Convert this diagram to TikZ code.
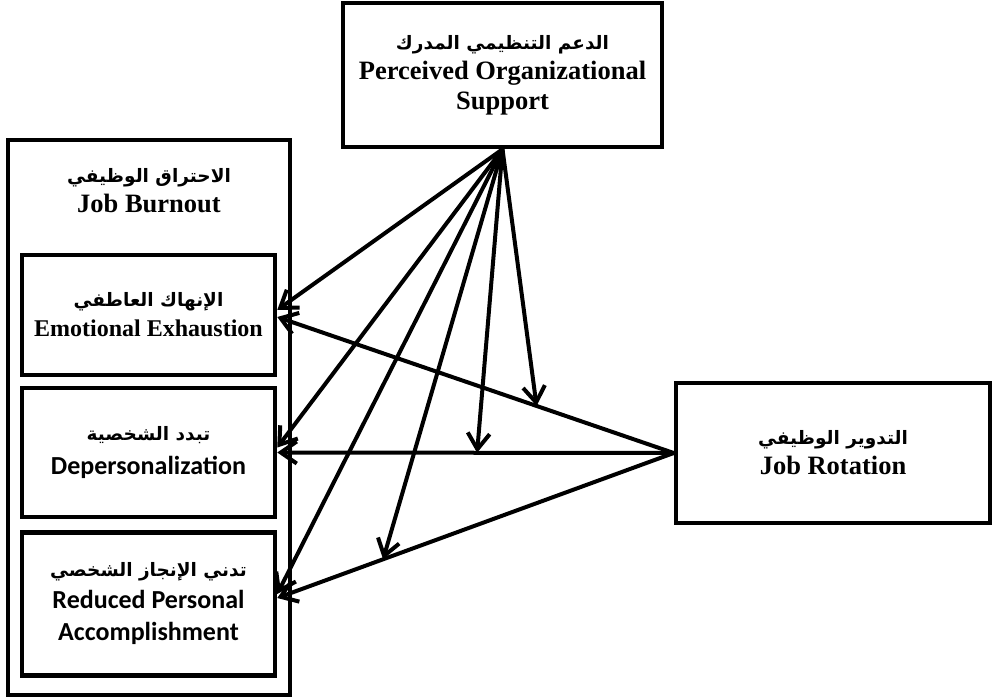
\documentclass[tikz,border=0pt]{standalone}
\usepackage{fontspec}
\setmainfont{Liberation Serif}
\newfontfamily\arabicfont[Script=Arabic]{DejaVu Sans}
\newfontfamily\calibfont{Carlito}
\TeXXeTstate=1
\usetikzlibrary{arrows.meta,calc}
\newcommand{\arabtxt}[1]{{\arabicfont\fontsize{18.5}{24}\selectfont\beginR #1\endR}}
\tikzset{
  >={Straight Barb[length=16pt,width=22pt]},
  every node/.style={font=\fontsize{26.5}{30}\selectfont\bfseries},
  box/.style={draw,line width=4.5pt,align=center,inner sep=0pt},
  title/.style={align=center,inner sep=0pt},
  arrow/.style={->,line width=4pt},
}
\begin{document}
\begin{tikzpicture}[x=1pt,y=-1pt]
\useasboundingbox (0,0) rectangle (994,698);

\node[box,minimum width=319,minimum height=144] (pos) at (502.5,75) {\arabtxt{الدعم التنظيمي المدرك}\\Perceived Organizational\\Support};
\node[box,minimum width=282,minimum height=555] (jb) at (149,417.5) {};
\node[title] (jbt) at (149,191) {\arabtxt{الاحتراق الوظيفي}\\Job Burnout};
\node[box,minimum width=253,minimum height=120,font=\fontsize{24}{30}\selectfont\bfseries] (ee) at (148.5,315) {\arabtxt{الإنهاك العاطفي}\\Emotional Exhaustion};
\node[box,minimum width=253,minimum height=129,font=\calibfont\fontsize{26}{34}\selectfont\bfseries] (dp) at (148.5,452.5) {\arabtxt{تبدد الشخصية}\\Depersonalization};
\node[box,minimum width=253,minimum height=143,font=\calibfont\fontsize{26}{32}\selectfont\bfseries] (ra) at (148.5,604) {\arabtxt{تدني الإنجاز الشخصي}\\Reduced Personal\\Accomplishment};
\node[box,minimum width=314,minimum height=140] (jr) at (833,453) {\arabtxt{التدوير الوظيفي}\\Job Rotation};

\coordinate (eeP) at ([yshift=5pt]ee.east);
\coordinate (eeR) at ([yshift=-2pt]ee.east);
\coordinate (dpP) at ([yshift=5pt]dp.east);
\coordinate (dpR) at (dp.east);
\coordinate (raP) at ([yshift=10pt]ra.east);
\coordinate (raR) at ([yshift=6pt]ra.east);

% job rotation -> dimensions
\draw[arrow] (jr.west) -- (eeR);
\draw[arrow] (jr.west) -- (dpR);
\draw[arrow] (jr.west) -- (raR);

% support -> dimensions
\draw[arrow] (pos.south) -- (eeP);
\draw[arrow] (pos.south) -- (dpP);
\draw[arrow] (pos.south) -- (raP);

% moderating paths
\draw[arrow] (pos.south) -- ($(jr.west)!0.346!(eeR)$);
\draw[arrow] (pos.south) -- ($(jr.west)!0.496!(dpR)$);
\draw[arrow] (pos.south) -- ($(jr.west)!0.733!(raR)$);

\end{tikzpicture}
\end{document}
